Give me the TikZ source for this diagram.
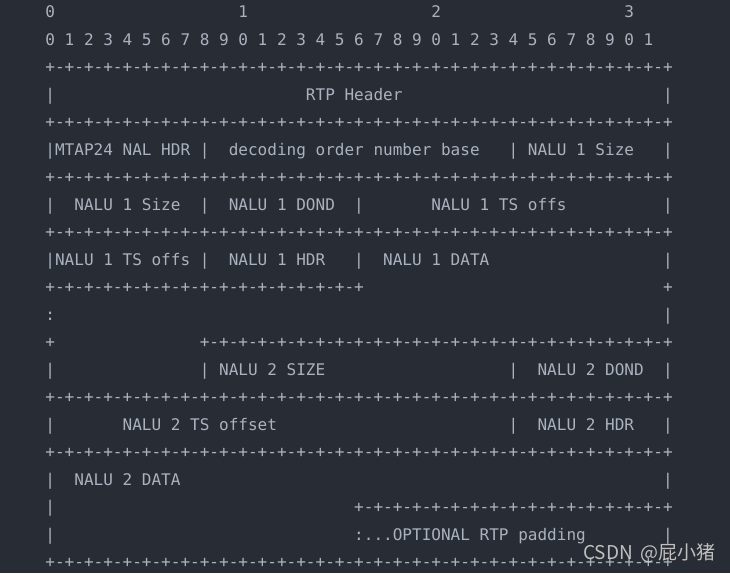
\documentclass[tikz,border=0pt]{standalone}
\usepackage{fontspec}
\usepackage{xcolor}
\usepackage{tikz}
\usetikzlibrary{positioning}
\newfontfamily\codefont{DejaVu Sans Mono}
\newfontfamily\cjkfont{Noto Sans CJK SC}
\definecolor{bgdark}{HTML}{282C34}
\definecolor{codegrey}{HTML}{ABB2BF}
\definecolor{wmark}{HTML}{D0D0D0}
% one row of bit ticks: +-+-...+ with #1 cells
\newcommand{\bitrule}[1]{+\foreach \k in {1,...,#1}{-+}}

\begin{document}
\begin{tikzpicture}[
		x=9.65pt, y=-27.5pt,
		cell/.style={font=\codefont\fontsize{16.03pt}{18pt}\selectfont, text=codegrey, inner sep=0pt, anchor=base west},
		watermark/.style={font=\cjkfont\fontsize{19pt}{22pt}\selectfont, text=wmark, text opacity=0.9, inner sep=0pt, anchor=base west}
		]

		\fill[bgdark] (-45.2pt,17.8pt) rectangle (684.8pt,-555.2pt);

		% bit numbers
		\foreach \d in {0,...,3}
			\node[cell] (tens\d) at (20*\d,0) {\d};
		\node[cell] (ones) at (0,1) {0 1 2 3 4 5 6 7 8 9 0 1 2 3 4 5 6 7 8 9 0 1 2 3 4 5 6 7 8 9 0 1};

		% tick rows
		\foreach \r in {2,4,6,8,14,16,20}
			\node[cell] (rule\r) at (0,\r) {\bitrule{32}};
		\node[cell] (rule10) at (0,10) {\bitrule{16}};
		\node[cell] (plus10) at (64,10) {+};
		\node[cell] (plus12) at (0,12) {+};
		\node[cell] (rule12) at (16,12) {\bitrule{24}};
		\node[cell] (rule18) at (32,18) {\bitrule{16}};

		% field borders
		\foreach \r in {3,5,7,9,13,15,17,18,19}
			\node[cell] (lbar\r) at (0,\r) {|};
		\foreach \r in {3,5,7,9,11,13,15,17,19}
			\node[cell] (rbar\r) at (64,\r) {|};
		\foreach \c/\r in {16/5,48/5,16/7,32/7,16/9,32/9,16/13,48/13,48/15}
			\node[cell] (bar\c-\r) at (\c,\r) {|};
		\node[cell] (dots11) at (0,11) {:};

		% field names
		\node[cell] (rtp) at (27,3) {RTP Header};
		\node[cell] (mtaphdr) at (1,5) {MTAP24 NAL HDR};
		\node[cell] (donbase) at (19,5) {decoding order number base};
		\node[cell] (sizeA) at (50,5) {NALU 1 Size};
		\node[cell] (sizeB) at (3,7) {NALU 1 Size};
		\node[cell] (dondA) at (19,7) {NALU 1 DOND};
		\node[cell] (tsA) at (40,7) {NALU 1 TS offs};
		\node[cell] (tsB) at (1,9) {NALU 1 TS offs};
		\node[cell] (hdrA) at (19,9) {NALU 1 HDR};
		\node[cell] (dataA) at (35,9) {NALU 1 DATA};
		\node[cell] (sizeC) at (18,13) {NALU 2 SIZE};
		\node[cell] (dondB) at (51,13) {NALU 2 DOND};
		\node[cell] (tsC) at (8,15) {NALU 2 TS offset};
		\node[cell] (hdrB) at (51,15) {NALU 2 HDR};
		\node[cell] (dataB) at (3,17) {NALU 2 DATA};
		\node[cell] (padding) at (32,19) {:...OPTIONAL RTP padding};

		\node[watermark] (csdn) at (537.8pt,-541.2pt) {CSDN\hspace{3pt} @屁小猪};

	\end{tikzpicture}
\end{document}
